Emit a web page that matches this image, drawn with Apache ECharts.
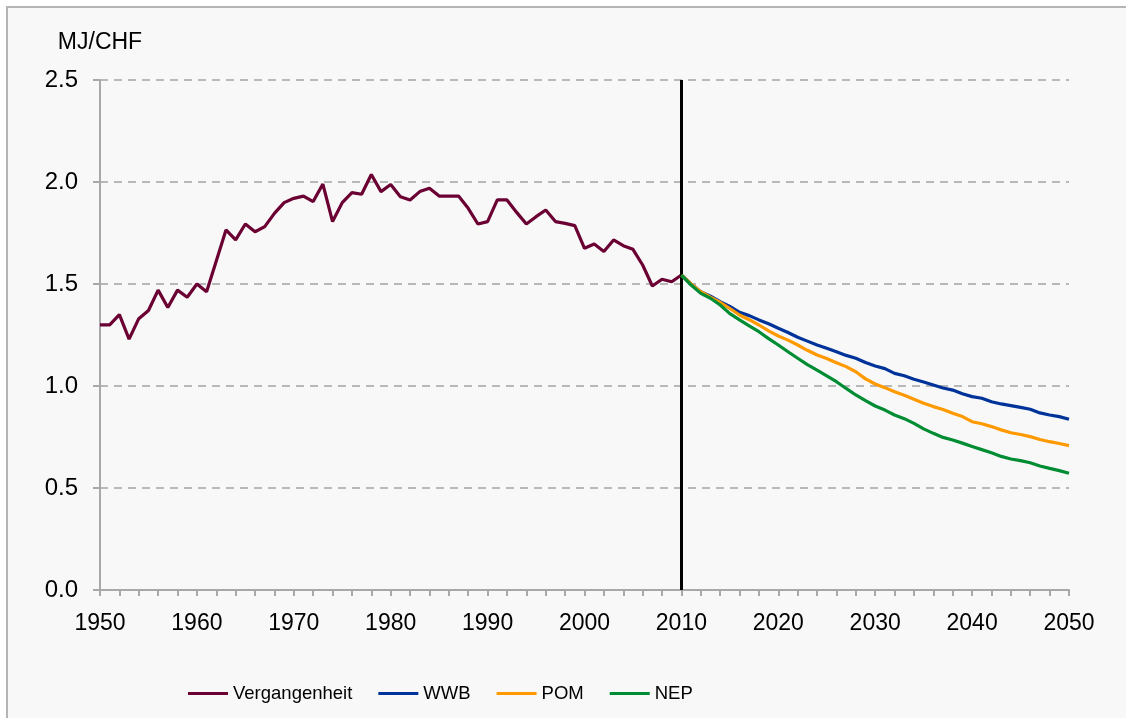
<!DOCTYPE html>
<html>
<head>
<meta charset="utf-8">
<script src="https://cdn.jsdelivr.net/npm/echarts@6/dist/echarts.min.js"></script>
<style>
html,body{margin:0;padding:0;background:#fff;overflow:hidden}
#wrap{position:relative;width:1126px;height:718px;overflow:hidden;background:#fff}
#frame{position:absolute;left:6px;top:6px;width:1200px;height:800px;background:#f8f8f8;border-left:2px solid #b4b4b4;border-top:2px solid #b4b4b4}
#c{position:absolute;left:0;top:0;width:1126px;height:718px}
</style>
</head>
<body>
<div id="wrap"><div id="frame"></div><div id="c"></div></div>
<script>
const histStart = 1950;
const histValues = [1.30,1.30,1.35,1.23,1.33,1.37,1.47,1.385,1.47,1.435,1.50,1.462,1.613,1.765,1.716,1.794,1.756,1.781,1.846,1.899,1.92,1.931,1.904,1.99,1.806,1.899,1.948,1.94,2.037,1.953,1.988,1.928,1.912,1.953,1.969,1.931,1.931,1.931,1.871,1.794,1.806,1.912,1.912,1.851,1.794,1.83,1.863,1.806,1.797,1.786,1.675,1.696,1.659,1.716,1.688,1.67,1.593,1.49,1.523,1.511,1.544];
const fcStart = 2010;
const wwbValues = [1.544,1.50,1.462,1.44,1.413,1.39,1.361,1.345,1.324,1.305,1.283,1.262,1.239,1.22,1.201,1.185,1.168,1.15,1.136,1.115,1.098,1.085,1.062,1.05,1.033,1.02,1.005,0.99,0.98,0.962,0.948,0.94,0.923,0.912,0.904,0.895,0.886,0.868,0.858,0.85,0.837];
const pomValues = [1.544,1.50,1.462,1.435,1.41,1.38,1.348,1.325,1.299,1.27,1.245,1.225,1.201,1.175,1.152,1.135,1.114,1.095,1.07,1.035,1.01,0.992,0.972,0.955,0.935,0.915,0.899,0.885,0.866,0.85,0.825,0.815,0.801,0.785,0.771,0.762,0.752,0.738,0.727,0.718,0.708];
const nepValues = [1.544,1.495,1.454,1.43,1.397,1.355,1.324,1.295,1.266,1.232,1.201,1.168,1.136,1.105,1.078,1.05,1.021,0.988,0.956,0.928,0.902,0.882,0.858,0.84,0.817,0.79,0.768,0.748,0.735,0.72,0.703,0.688,0.673,0.655,0.642,0.634,0.624,0.608,0.596,0.585,0.572];
const seriesNames = ['Vergangenheit','WWB','POM','NEP'];
const seriesColors = ['#6b0033','#003399','#ff9900','#008c33'];
const yAxisName = 'MJ/CHF';
const divideYear = 2010;

function toPairs(start, arr){ return arr.map((v,i)=>[start+i, v]); }
const FONT = '"Liberation Sans", Arial, Helvetica, sans-serif';

const chart = echarts.init(document.getElementById('c'), null, {renderer:'canvas'});
const dataSets = [toPairs(histStart,histValues), toPairs(fcStart,wwbValues), toPairs(fcStart,pomValues), toPairs(fcStart,nepValues)];
const series = dataSets.map((d,i)=>({
  name: seriesNames[i], type:'line', data:d, showSymbol:false, symbol:'none',
  lineStyle:{color:seriesColors[i], width:3.2}, itemStyle:{color:seriesColors[i]},
  z: 3+i, animation:false
}));
series[0].markLine = {
  silent:true, symbol:'none', label:{show:false},
  lineStyle:{color:'#000', width:3, type:'solid'},
  data:[[{coord:[divideYear,0]},{coord:[divideYear,2.5]}]]
};
chart.setOption({
  animation:false,
  backgroundColor:'transparent',
  grid:{left:100, right:57, top:80, bottom:128, containLabel:false},
  legend:{
    left:183, top:679, itemWidth:40, itemHeight:3, itemGap:26,
    icon:'rect',
    textStyle:{fontFamily:FONT, fontSize:18.5, color:'#000'},
    data:seriesNames
  },
  xAxis:{
    type:'value', min:1950, max:2050, interval:10,
    axisLine:{show:true, lineStyle:{color:'#a8a8a8', width:2}},
    axisTick:{show:true, length:6, inside:false, lineStyle:{color:'#a8a8a8', width:2}},
    minorTick:{show:true, splitNumber:5, length:6, lineStyle:{color:'#a8a8a8', width:2}},
    splitLine:{show:false},
    axisLabel:{fontFamily:FONT, fontSize:23, color:'#000', margin:22, formatter:v=>String(v)}
  },
  yAxis:{
    type:'value', min:0, max:2.5, interval:0.5,
    name:yAxisName, nameLocation:'end', nameGap:26,
    nameTextStyle:{fontFamily:FONT, fontSize:23, color:'#000', align:'center'},
    axisLine:{show:true, lineStyle:{color:'#a8a8a8', width:2}},
    axisTick:{show:true, length:7, inside:false, lineStyle:{color:'#a8a8a8', width:2}},
    splitLine:{show:true, lineStyle:{color:'#b8b8b8', width:2, type:[8,6]}},
    axisLabel:{fontFamily:FONT, fontSize:24, color:'#000', margin:22, formatter:v=>v.toFixed(1)}
  },
  series: series
});
</script>
</body>
</html>
